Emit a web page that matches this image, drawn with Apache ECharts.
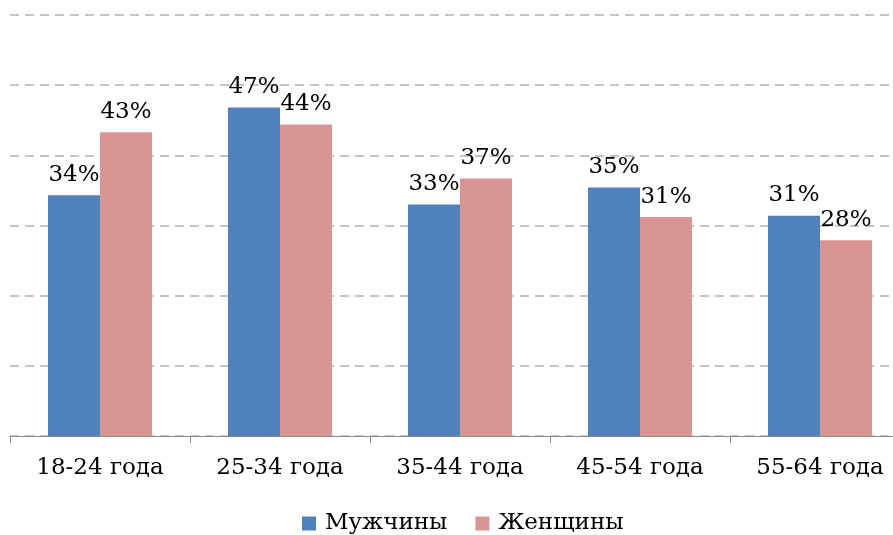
<!DOCTYPE html>
<html>
<head>
<meta charset="utf-8">
<script src="https://cdn.jsdelivr.net/npm/echarts@6/dist/echarts.min.js"></script>
<style>
  html, body { margin: 0; padding: 0; background: #fff; }
  #chart { width: 893px; height: 535px; }
</style>
</head>
<body>
<div id="chart"></div>
<script>
// возрастные группы
var categories = ['18-24 года', '25-34 года', '35-44 года', '45-54 года', '55-64 года']
var seriesNames = ['Мужчины', 'Женщины']
var men = [34.3, 46.8, 33.0, 35.4, 31.4]
var women = [43.3, 44.4, 36.7, 31.2, 27.9]

var font = 'DejaVu Serif'

var chart = echarts.init(document.getElementById('chart'))

function pct(p) {
  return Math.round(p.value) + '%'
}

chart.setOption({
  animation: false,
  textStyle: { fontFamily: font },
  grid: {
    left: 10,
    width: 900,
    top: 15,
    bottom: 99,
    outerBoundsMode: 'none'
  },
  legend: {
    data: seriesNames,
    top: 507,
    left: 297,
    itemWidth: 14,
    itemHeight: 14,
    itemGap: 28,
    icon: 'rect',
    textStyle: { fontFamily: font, fontSize: 23, color: '#000', padding: [0, 0, 0, 4] }
  },
  xAxis: {
    type: 'category',
    data: categories,
    z: 5,
    axisLine: { lineStyle: { color: '#8c8c8c', width: 1 } },
    axisTick: { show: true, length: 7, lineStyle: { color: '#8c8c8c' } },
    axisLabel: { fontFamily: font, fontSize: 23, color: '#000', margin: 21 }
  },
  yAxis: {
    type: 'value',
    min: 0,
    max: 60,
    interval: 10,
    axisLine: { show: false },
    axisTick: { show: false },
    axisLabel: { show: false },
    splitLine: { lineStyle: { color: '#c4c4c4', type: [9, 6], width: 2 } }
  },
  series: [
    {
      name: seriesNames[0],
      type: 'bar',
      data: men,
      barWidth: 52,
      barGap: '0%',
      itemStyle: { color: '#4f81bd' },
      label: { show: true, position: 'top', distance: 9, formatter: pct, fontFamily: font, fontSize: 23, color: '#000' }
    },
    {
      name: seriesNames[1],
      type: 'bar',
      data: women,
      barWidth: 52,
      barGap: '0%',
      itemStyle: { color: '#d99594' },
      label: { show: true, position: 'top', distance: 9, formatter: pct, fontFamily: font, fontSize: 23, color: '#000' }
    }
  ]
})
</script>
</body>
</html>
